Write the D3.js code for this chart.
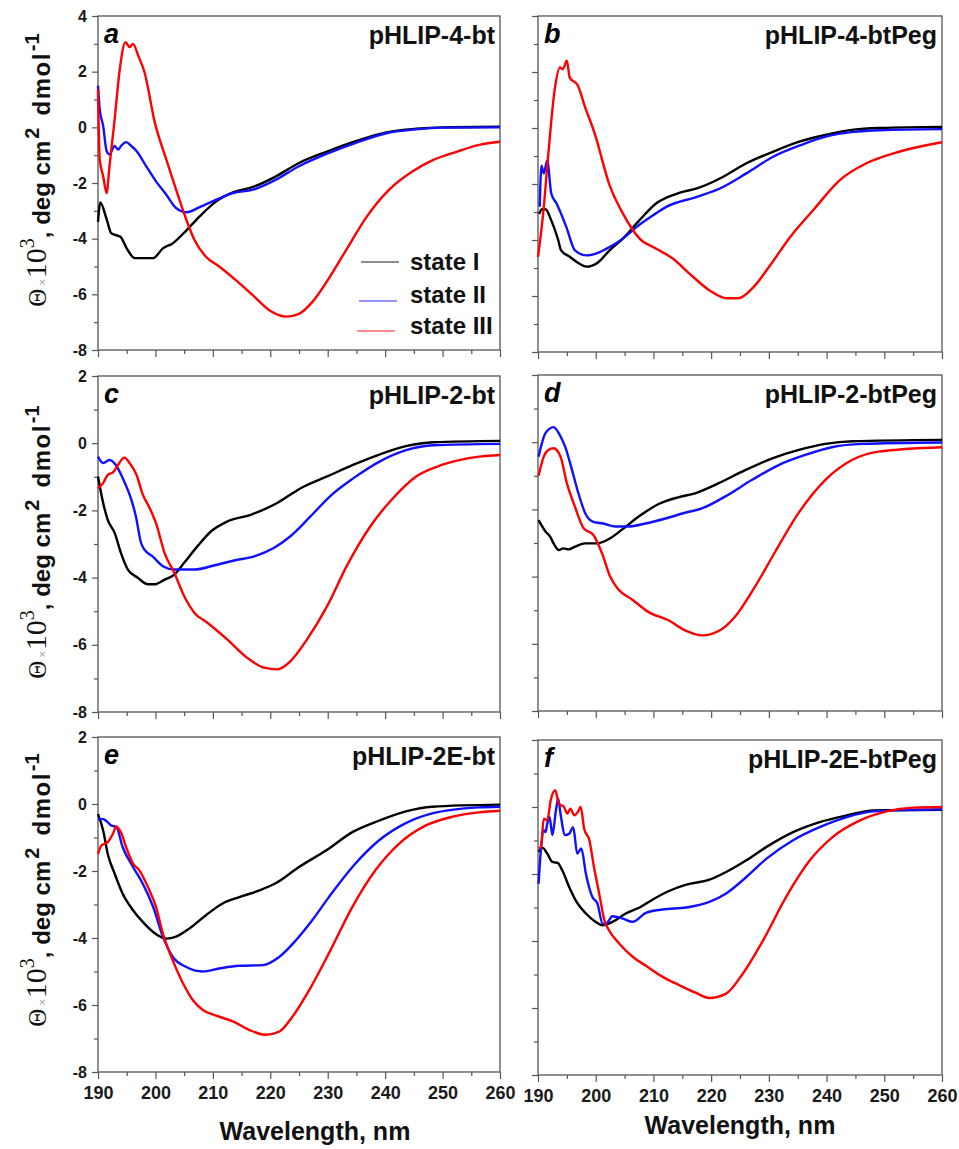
<!DOCTYPE html>
<html>
<head>
<meta charset="utf-8">
<script src="https://cdn.jsdelivr.net/npm/d3@7"></script>
<style>
  body { margin: 0; background: #fff; }
  text { font-family: "Liberation Sans", Arial, sans-serif; }
</style>
</head>
<body>
<div id="chart"></div>
<script>
// CD spectra, Theta x10^3 (deg cm2 dmol-1) vs wavelength (nm)
var aStateI = [[190,-3.4],[190.4,-2.7],[191.5,-3.3],[192.3,-3.8],[193.5,-3.9],[194,-3.95],[195,-4.35],[196.4,-4.7],[197.8,-4.7],[199.6,-4.7],[201.3,-4.35],[203,-4.17],[205.4,-3.7],[207.7,-3.2],[210.6,-2.66],[213.5,-2.34],[217,-2.14],[221,-1.76],[225,-1.28],[230,-0.86],[235,-0.49],[240,-0.19],[245.4,-0.05],[250,0],[260,0.02]]
var aStateII = [[190,1.5],[190.3,0.65],[190.9,0.05],[191.5,-0.85],[192,-0.97],[192.9,-0.67],[193.5,-0.8],[194,-0.67],[194.9,-0.53],[195.8,-0.67],[196.7,-0.85],[198.4,-1.4],[200.1,-1.94],[201.9,-2.42],[203.6,-2.9],[205.4,-3.05],[207.7,-2.87],[210.6,-2.6],[213.5,-2.36],[217,-2.24],[221,-1.88],[225,-1.4],[230,-0.94],[235,-0.55],[240,-0.22],[245.4,-0.07],[250,-0.01],[260,0]]
var aStateIII = [[190,1.37],[190.3,-1.15],[190.9,-1.76],[191.5,-2.36],[192,-1.4],[192.9,0.29],[193.8,2.1],[194.8,3.06],[195.5,2.88],[196.1,3.0],[197,2.58],[198.1,1.98],[199.9,0.17],[201.9,-1.16],[203.6,-2.24],[205.4,-3.33],[206.8,-4.05],[208.8,-4.65],[211.1,-5.0],[214,-5.49],[217,-6.04],[219.9,-6.58],[222.8,-6.8],[225,-6.7],[227.3,-6.28],[230,-5.49],[233.2,-4.41],[236.6,-3.27],[240.7,-2.24],[244.8,-1.58],[248.3,-1.18],[252.3,-0.89],[256.4,-0.63],[260,-0.52]]

var bStateI = [[190.2,-3.07],[190.7,-2.9],[191.3,-2.9],[192.3,-3.3],[193.5,-4.0],[194,-4.37],[195.5,-4.6],[197.2,-4.85],[198.4,-4.95],[200.4,-4.8],[202.4,-4.37],[204.7,-3.95],[207.6,-3.29],[210.5,-2.69],[214.6,-2.31],[217.5,-2.16],[222.1,-1.74],[226.1,-1.26],[230.8,-0.84],[235.4,-0.48],[240,-0.24],[244.7,-0.06],[249.3,0.0],[260,0.04]]
var bStateII = [[190.3,-2.81],[190.6,-1.35],[191,-1.62],[191.6,-1.16],[192.3,-2.34],[193.2,-2.69],[194.9,-3.53],[196.4,-4.37],[198.4,-4.55],[200.7,-4.43],[202.4,-4.25],[204.7,-3.95],[207.1,-3.53],[210,-3.11],[212.3,-2.81],[217.5,-2.46],[221.5,-2.16],[226.1,-1.62],[230.8,-1.02],[235.4,-0.62],[240,-0.3],[244.7,-0.14],[249.3,-0.08],[260,-0.04]]
var bStateIII = [[190,-4.6],[190.9,-3.05],[191.7,-1.14],[192.9,1.38],[193.8,2.16],[194.3,2.1],[195,2.4],[195.5,1.8],[196.9,1.52],[198.1,0.78],[199.8,-0.18],[202.4,-2.04],[204.7,-3.05],[207.6,-3.95],[210.5,-4.31],[213.4,-4.67],[216.3,-5.21],[219.8,-5.81],[222.7,-6.08],[224.7,-6.08],[227.3,-5.69],[230.2,-4.91],[233.7,-3.89],[237.7,-2.93],[242.3,-1.86],[246.9,-1.26],[252.7,-0.84],[260,-0.51]]

var cStateI = [[190,-0.99],[190.9,-1.78],[191.7,-2.28],[192.9,-2.67],[194,-3.27],[195.2,-3.76],[196.9,-4.0],[198.7,-4.2],[199.8,-4.2],[201.6,-4.06],[203.3,-3.91],[205,-3.56],[207.3,-3.07],[209.7,-2.62],[212.5,-2.33],[216.6,-2.13],[221.2,-1.78],[225.3,-1.34],[229.9,-0.99],[234.5,-0.64],[239.1,-0.33],[243.8,-0.08],[248.4,0.03],[260,0.07]]
var cStateII = [[190,-0.4],[190.9,-0.59],[192,-0.5],[193.2,-0.67],[194.3,-1.04],[195.8,-1.68],[196.6,-2.18],[197.5,-2.97],[198.1,-3.17],[199.5,-3.37],[201.3,-3.66],[203.3,-3.76],[206.8,-3.76],[210.2,-3.64],[213.7,-3.49],[217.2,-3.37],[220.6,-3.12],[223.5,-2.77],[227,-2.18],[230.4,-1.58],[234.5,-1.04],[239.1,-0.54],[243.8,-0.2],[248.4,-0.06],[260,-0.02]]
var cStateIII = [[190,-1.34],[190.9,-1.19],[191.7,-0.94],[192.6,-0.87],[193.5,-0.64],[194.6,-0.43],[195.5,-0.59],[196.7,-0.94],[197.8,-1.53],[199,-1.93],[200.1,-2.38],[201.6,-3.27],[203.3,-3.86],[205,-4.55],[206.8,-5.05],[209.1,-5.35],[212.5,-5.84],[216,-6.39],[218.9,-6.68],[221.2,-6.73],[223.5,-6.49],[226.4,-5.84],[229.9,-4.85],[233.3,-3.66],[237.4,-2.48],[241.4,-1.63],[245.4,-0.99],[250,-0.64],[256.4,-0.4],[260,-0.35]]

var dStateI = [[190.1,-2.32],[191.3,-2.66],[192.1,-2.81],[192.7,-3.01],[193.6,-3.21],[194.4,-3.16],[195.3,-3.19],[196.4,-3.11],[198.2,-3.01],[200.2,-3.01],[202.2,-2.89],[204.5,-2.61],[207.4,-2.22],[210.9,-1.84],[214.3,-1.64],[217.2,-1.52],[221.3,-1.22],[225.9,-0.83],[230.6,-0.48],[235.2,-0.23],[239.8,-0.05],[244.5,0.03],[260,0.07]]
var dStateII = [[190.1,-0.43],[191.3,0.27],[192.7,0.45],[193.9,0.17],[194.7,-0.13],[195.9,-0.83],[197,-1.52],[198.2,-2.12],[199.6,-2.37],[201.3,-2.42],[203.4,-2.51],[205.7,-2.51],[208.6,-2.42],[212.1,-2.27],[215.5,-2.1],[218.4,-1.97],[222.4,-1.62],[227.1,-1.12],[231.7,-0.68],[236.3,-0.38],[240.9,-0.15],[246.2,-0.05],[260,-0.01]]
var dStateIII = [[190.1,-1.0],[191,-0.43],[191.8,-0.23],[192.7,-0.18],[193.9,-0.43],[195,-1.22],[196.4,-1.92],[197.9,-2.56],[199.6,-2.76],[201.1,-3.31],[202.5,-4.0],[203.9,-4.38],[206.3,-4.68],[209.1,-5.05],[212.6,-5.3],[215.5,-5.6],[218.4,-5.75],[221.3,-5.62],[224.1,-5.2],[227.6,-4.3],[231.1,-3.26],[235.1,-2.12],[239.8,-1.12],[244.4,-0.53],[249,-0.28],[260,-0.15]]

var eStateI = [[190,-0.3],[190.9,-0.79],[191.7,-1.49],[192.9,-2.08],[194.3,-2.68],[196.1,-3.17],[197.8,-3.52],[199.6,-3.82],[201.9,-4.02],[203.6,-3.96],[205.9,-3.72],[208.8,-3.32],[211.7,-2.97],[214.6,-2.78],[218.1,-2.58],[221,-2.36],[225,-1.88],[229.7,-1.39],[234.3,-0.84],[238.9,-0.5],[243.6,-0.22],[248.2,-0.08],[260,-0.02]]
var eStateII = [[190,-0.45],[190.9,-0.45],[191.4,-0.5],[192.3,-0.64],[193.2,-0.69],[194.3,-1.29],[196.1,-1.88],[197.8,-2.38],[199.6,-3.07],[201.3,-3.96],[203,-4.56],[205.3,-4.86],[208.2,-5.0],[211.1,-4.91],[214.6,-4.83],[218.7,-4.81],[221.6,-4.56],[224.5,-4.06],[227.3,-3.47],[230.2,-2.78],[234.3,-1.88],[238.9,-1.09],[243.6,-0.57],[248.2,-0.28],[256.3,-0.1],[260,-0.08]]
var eStateIII = [[190,-1.49],[190.6,-1.24],[191.7,-1.14],[192.6,-0.89],[193.2,-0.67],[194.1,-0.89],[194.9,-1.29],[196.1,-1.78],[197.2,-1.98],[198.7,-2.48],[200.1,-3.07],[201.3,-3.87],[203,-4.66],[204.8,-5.35],[206.5,-5.85],[208.2,-6.14],[210.6,-6.32],[213.5,-6.49],[216.3,-6.74],[219.2,-6.89],[221.6,-6.79],[223.9,-6.34],[226.8,-5.55],[230.2,-4.46],[234.3,-3.07],[238.3,-1.98],[242.4,-1.19],[247.1,-0.64],[251.7,-0.38],[256.3,-0.25],[260,-0.2]]

var fStateI = [[190.1,-1.34],[190.8,-1.22],[191.6,-1.39],[192.5,-1.64],[193.4,-1.67],[194.2,-1.89],[195.4,-2.39],[196.5,-2.78],[198.3,-3.18],[200,-3.43],[201.2,-3.53],[202.9,-3.43],[205.2,-3.18],[207.6,-3.0],[209.9,-2.76],[212.8,-2.5],[215.7,-2.32],[219.7,-2.17],[222.6,-1.94],[226.1,-1.59],[229.6,-1.19],[234.2,-0.75],[238.8,-0.45],[243.5,-0.25],[248.1,-0.1],[260,-0.08]]
var fStateII = [[190.1,-2.29],[190.5,-1.29],[191,-0.7],[191.3,-0.75],[191.6,-0.5],[192,-0.3],[192.5,-0.84],[193.1,-0.1],[193.5,0.25],[193.9,-0.2],[194.7,-0.84],[195.4,-0.8],[196.1,-0.6],[196.8,-1.39],[197.5,-1.24],[198.3,-1.99],[199.4,-2.68],[200.3,-2.88],[201.2,-3.48],[201.8,-3.48],[202.9,-3.26],[204.7,-3.33],[206.4,-3.43],[208.7,-3.16],[211.6,-3.06],[215.7,-3.0],[219.7,-2.83],[222.6,-2.58],[226.1,-2.09],[229.6,-1.54],[234.2,-0.99],[238.8,-0.6],[243.5,-0.3],[248.1,-0.13],[260,-0.07]]
var fStateIII = [[190.1,-1.24],[190.5,-1.19],[191,-0.35],[191.6,-0.4],[192.2,0.2],[193,0.5],[193.6,0.1],[194.5,0],[195.1,-0.2],[195.6,-0.05],[196.3,-0.25],[196.9,-0.15],[197.4,0],[198,-0.65],[198.9,-0.99],[199.7,-1.79],[200.6,-2.58],[201.5,-3.38],[202.3,-3.68],[204.1,-4.08],[206.4,-4.47],[208.7,-4.74],[211.6,-5.07],[214.5,-5.32],[217.4,-5.55],[219.7,-5.7],[222.6,-5.57],[225.5,-4.97],[229,-3.98],[233,-2.68],[237.1,-1.59],[241.1,-0.89],[245.8,-0.4],[250.4,-0.13],[255,-0.02],[260,0]]

var letters = ["a", "b", "c", "d", "e", "f"]
var titles = ["pHLIP-4-bt", "pHLIP-4-btPeg", "pHLIP-2-bt", "pHLIP-2-btPeg", "pHLIP-2E-bt", "pHLIP-2E-btPeg"]
var stateNames = ["state I", "state II", "state III"]
var stateColors = ["#000000", "#1010ff", "#ff0000"]
var xTicks = [190, 200, 210, 220, 230, 240, 250, 260]
var yTicksTop = [-8, -6, -4, -2, 0, 2, 4]
var yTicksRest = [-8, -6, -4, -2, 0, 2]

var series = [
    [aStateI, aStateII, aStateIII],
    [bStateI, bStateII, bStateIII],
    [cStateI, cStateII, cStateIII],
    [dStateI, dStateII, dStateIII],
    [eStateI, eStateII, eStateIII],
    [fStateI, fStateII, fStateIII],
]

const width = 959;
const height = 1149;

// frame boxes of each panel [left, top, right, bottom]
const boxes = [
    [98, 16, 500, 350], [538, 16, 942, 352],
    [98, 376, 500, 712], [538, 375, 942, 711],
    [98, 737, 500, 1072], [538, 740, 942, 1075],
]

const svg = d3.select("#chart").append("svg")
    .attr("width", width)
    .attr("height", height)
    .attr("viewBox", [0, 0, width, height]);

const line = d3.line().curve(d3.curveMonotoneX)

series.forEach((curves, i) => {
    const [l, t, r, b] = boxes[i]
    const left = i % 2 == 0
    const bottom = i >= 4
    const yTicks = i < 2 ? yTicksTop : yTicksRest

    const x = d3.scaleLinear().domain([190, 260]).range([l, r])
    const y = d3.scaleLinear().domain([-8, d3.max(yTicks)]).range([b, t])

    const g = svg.append("g")

    // minor ticks
    const xMinor = d3.range(195, 260, 10)
    const yMinor = d3.range(-7, d3.max(yTicks), 2)
    g.append("g").attr("transform", `translate(0,${b})`)
        .call(d3.axisBottom(x).tickValues(xMinor).tickSize(4).tickFormat(""))
    g.append("g").attr("transform", `translate(${l},0)`)
        .call(d3.axisLeft(y).tickValues(yMinor).tickSize(4).tickFormat(""))

    // major ticks
    g.append("g").attr("class", "xaxis").attr("transform", `translate(0,${b})`)
        .call(d3.axisBottom(x).tickValues(xTicks).tickSize(7).tickPadding(7)
            .tickFormat(bottom ? d => String(d) : ""))
    g.append("g").attr("class", "yaxis").attr("transform", `translate(${l},0)`)
        .call(d3.axisLeft(y).tickValues(yTicks).tickSize(6).tickPadding(5)
            .tickFormat(left ? d => String(d) : ""))

    g.selectAll(".domain").remove()
    g.selectAll(".tick line").attr("stroke", "#555").attr("stroke-width", 1.2)
    g.selectAll(".xaxis text").attr("font-size", 18).attr("font-weight", "bold")
        .attr("font-family", "Liberation Sans, Arial, sans-serif").attr("fill", "#1a1a1a")
    g.selectAll(".yaxis text").attr("font-size", 16).attr("font-weight", "bold")
        .attr("font-family", "Liberation Sans, Arial, sans-serif").attr("fill", "#1a1a1a")

    // frame
    g.append("rect")
        .attr("x", l).attr("y", t)
        .attr("width", r - l).attr("height", b - t)
        .attr("fill", "none")
        .attr("stroke", "#555")
        .attr("stroke-width", 1.3)

    // spectra
    curves.forEach((pts, k) => {
        g.append("path")
            .attr("d", line(pts.map(p => [x(p[0]), y(p[1])])))
            .attr("fill", "none")
            .attr("stroke", stateColors[k])
            .attr("stroke-width", 2.4)
            .attr("stroke-linejoin", "round")
    })

    // panel letter and name
    g.append("text")
        .attr("x", l + 6).attr("y", t + 27)
        .attr("font-size", 27).attr("font-weight", "bold").attr("font-style", "italic")
        .text(letters[i])
    g.append("text")
        .attr("x", r - 5).attr("y", t + 28)
        .attr("text-anchor", "end")
        .attr("font-size", 25).attr("font-weight", "bold").attr("fill", "#111")
        .text(titles[i])

    if (bottom) {
        g.append("text")
            .attr("x", left ? 315 : 740).attr("y", left ? 1140 : 1134)
            .attr("text-anchor", "middle")
            .attr("font-size", 25).attr("font-weight", "bold").attr("fill", "#111")
            .text("Wavelength, nm")
    }

    if (left) {
        const cy = [170, 542, 890][i / 2]
        const lab = svg.append("text")
            .attr("transform", `translate(50,${cy}) rotate(-90)`)
            .attr("text-anchor", "middle")
            .attr("fill", "#111")
        lab.append("tspan").attr("font-family", "Liberation Serif, serif").attr("font-size", 25).attr("dy", -4).text("Θ")
        lab.append("tspan").attr("font-family", "Liberation Sans, sans-serif").attr("font-size", 11).attr("fill", "#999").attr("dx", 3).text("×")
        lab.append("tspan").attr("font-family", "Liberation Serif, serif").attr("font-size", 30).attr("dx", 1).text("10")
        lab.append("tspan").attr("font-family", "Liberation Serif, serif").attr("font-size", 20).attr("dy", -12).text("3")
        lab.append("tspan").attr("font-size", 24).attr("font-weight", "bold").attr("dy", 16).text(", deg cm")
        lab.append("tspan").attr("font-size", 20).attr("font-weight", "bold").attr("dx", 2).attr("dy", -11).text("2")
        lab.append("tspan").attr("font-size", 24).attr("font-weight", "bold").attr("dx", 4).attr("dy", 11)
            .attr("letter-spacing", 1.5).text(" dmol")
        lab.append("tspan").attr("font-size", 20).attr("font-weight", "bold").attr("dx", 1).attr("dy", -11).text("-1")
    }
})

// legend in panel a
const legend = svg.append("g")
stateNames.forEach((name, k) => {
    const ly = [262, 301, 331][k]
    const lx = [361, 359, 357][k]
    legend.append("line")
        .attr("x1", lx).attr("x2", lx + 38)
        .attr("y1", ly).attr("y2", ly)
        .attr("stroke", stateColors[k])
        .attr("stroke-opacity", 0.6)
        .attr("stroke-width", 1.3)
    legend.append("text")
        .attr("x", 410).attr("y", [270, 303, 334][k])
        .attr("font-size", 24).attr("font-weight", "bold").attr("fill", "#111")
        .text(name)
})
</script>
</body>
</html>
